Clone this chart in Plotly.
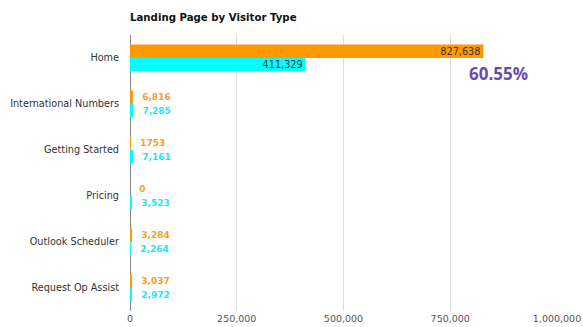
import plotly.graph_objects as go

categories = ["Home", "International Numbers", "Getting Started", "Pricing",
              "Outlook Scheduler", "Request Op Assist"]
new_visitors = [827638, 6816, 1753, 0, 3284, 3037]
returning_visitors = [411329, 7285, 7161, 3523, 2264, 2972]
new_labels = ["827,638", "6,816", "1753", "0", "3,284", "3,037"]
returning_labels = ["411,329", "7,285", "7,161", "3,523", "2,264", "2,972"]
x_ticks = [0, 250000, 500000, 750000, 1000000]
x_tick_labels = ["0", "250,000", "500,000", "750,000", "1,000,000"]
share_label = "60.55%"

ORANGE = "#ff9900"
CYAN = "#00ffff"
ORANGE_TXT = "#f5a02a"
CYAN_TXT = "#1ee6f2"

fig = go.Figure()
for vals, labels, color, tcolor, name in [
    (new_visitors, new_labels, ORANGE, ORANGE_TXT, "New"),
    (returning_visitors, returning_labels, CYAN, CYAN_TXT, "Returning"),
]:
    big = [v > 100000 for v in vals]
    # long bars carry their value inside the end; short bars show it just past the bar
    fig.add_trace(go.Bar(
        y=categories, x=vals, orientation="h", name=name,
        marker=dict(color=color, line=dict(width=0)),
        text=[("" if b else "  ") + t for t, b in zip(labels, big)],
        textposition=["inside" if b else "outside" for b in big],
        insidetextanchor="end", constraintext="none",
        insidetextfont=dict(color="#333333", size=9.7, family="DejaVu Sans"),
        outsidetextfont=dict(color=tcolor, size=9, family="DejaVu Sans", weight="bold"),
        cliponaxis=False,
    ))

fig.add_annotation(
    x=862000, y=0.33, xref="x", yref="y", text=f"<b>{share_label}</b>",
    showarrow=False, font=dict(size=17, color="#6a4caf", family="Open Sans"),
)

fig.update_layout(
    width=583, height=327,
    margin=dict(l=130, r=26, t=35, b=16),
    barmode="group", bargap=0.41, bargroupgap=0,
    showlegend=False,
    plot_bgcolor="white", paper_bgcolor="white",
    title=dict(text="<b>Landing Page by Visitor Type</b>", x=130 / 583, xanchor="left",
               y=1 - 17 / 327, yanchor="middle",
               font=dict(size=10.2, color="#111111", family="DejaVu Sans")),
    font=dict(family="DejaVu Sans", size=10, color="#444444"),
)
fig.update_xaxes(
    range=[0, 1000000], tickvals=x_ticks, ticktext=x_tick_labels,
    showgrid=True, gridcolor="#dcdcdc", gridwidth=1,
    zeroline=True, zerolinecolor="#888888", zerolinewidth=1,
    ticks="", tickfont=dict(size=9.5, color="#555555"), automargin=False,
)
fig.update_yaxes(
    autorange="reversed", ticks="", ticklabelstandoff=10,
    tickfont=dict(size=9.7, color="#333333"), automargin=False,
)

fig.write_html("out.html")
